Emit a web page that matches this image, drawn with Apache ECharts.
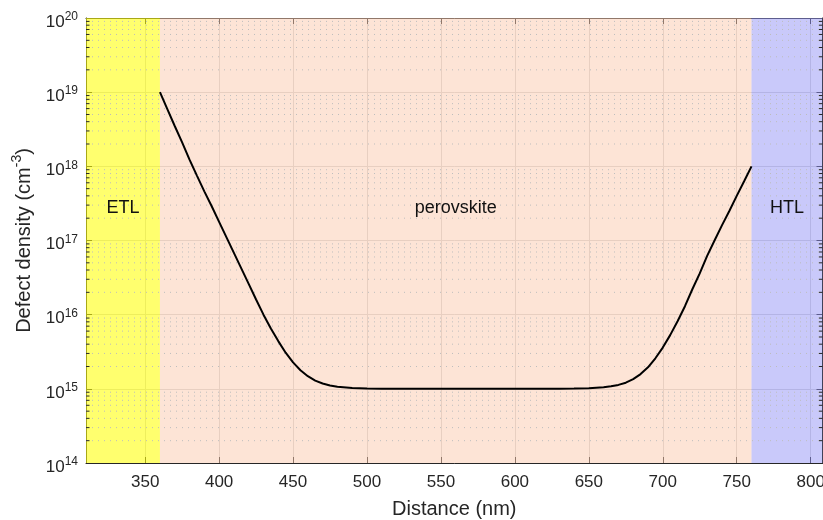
<!DOCTYPE html>
<html><head><meta charset="utf-8">
<script src="https://cdn.jsdelivr.net/npm/echarts@6/dist/echarts.min.js"></script>
<style>html,body{margin:0;padding:0;background:#fff}#c{width:823px;height:520px}</style>
</head><body><div id="c"></div>
<script>
const distance = [360,365,370,375,380,385,390,395,400,405,410,415,420,425,430,435,440,445,450,455,460,465,470,475,480,490,500,510,520,550,600,630,640,650,660,665,670,675,680,685,690,695,700,705,710,715,720,725,730,735,740,745,750,755,760];
const density = [1e19,5.9e18,3.5e18,2.1e18,1.23e18,7.5e17,4.6e17,2.9e17,1.78e17,1.1e17,6.8e16,4.2e16,2.6e16,1.6e16,1.0e16,6.5e15,4.4e15,3.07e15,2.27e15,1.78e15,1.48e15,1.29e15,1.18e15,1.11e15,1.07e15,1.025e15,1.01e15,1.004e15,1.0e15,1.0e15,1.0e15,1.0e15,1.007e15,1.02e15,1.05e15,1.08e15,1.13e15,1.21e15,1.35e15,1.58e15,1.95e15,2.58e15,3.6e15,5.3e15,8.15e15,1.3e16,2.2e16,3.6e16,6.2e16,1.0e17,1.6e17,2.5e17,4.0e17,6.3e17,1.0e18];
const xTicks = [350,400,450,500,550,600,650,700,750,800];
const xMin = 310, xMax = 808;
const yMin = 1e14, yMax = 1e20;
const layers = [
  {name:'ETL', from:310, to:360, color:'rgba(255,255,13,0.6)'},
  {name:'perovskite', from:360, to:760, color:'rgba(251,201,173,0.5)'},
  {name:'HTL', from:760, to:808, color:'rgba(147,147,245,0.5)'}
];
const minorVals = [];
for (let e = 14; e < 20; e++) for (let m = 2; m <= 9; m++) minorVals.push([xMin, m * Math.pow(10, e)]);

const FONT = 'Liberation Sans, Arial, sans-serif';
const chart = echarts.init(document.getElementById('c'));
const supLabel = v => {
  const e = Math.round(Math.log10(v));
  return '{b|10}{s|' + e + '}';
};
const yLabelRich = {
  b:{fontSize:17, fontFamily:FONT, color:'#262626', lineHeight:20, padding:[8,0,0,0]},
  s:{fontSize:12, fontFamily:FONT, color:'#262626', lineHeight:12, verticalAlign:'top', padding:[3,0,0,0]}
};
chart.setOption({
  animation:false,
  backgroundColor:'#fff',
  grid:{left:86, top:18, right:0.5, bottom:57, containLabel:false, outerBoundsMode:'none'},
  xAxis:[{
    type:'value', min:xMin, max:xMax, position:'bottom',
    name:'Distance (nm)', nameLocation:'middle', nameGap:36,
    nameTextStyle:{fontSize:20, fontFamily:FONT, color:'#262626'},
    axisLine:{show:true, lineStyle:{color:'#262626', width:1}},
    axisTick:{show:true, inside:true, length:6, customValues:xTicks, lineStyle:{color:'#262626'}},
    axisLabel:{fontSize:17, fontFamily:FONT, color:'#262626', margin:11, customValues:xTicks},
    splitLine:{show:true, lineStyle:{color:'#d4d4d4', width:1}}
  },{
    type:'value', min:xMin, max:xMax, position:'top',
    axisLine:{show:true, lineStyle:{color:'#262626', width:1}},
    axisTick:{show:true, inside:true, length:6, customValues:xTicks, lineStyle:{color:'#262626'}},
    axisLabel:{show:false}, splitLine:{show:false}
  }],
  yAxis:[{
    type:'log', logBase:10, min:yMin, max:yMax, interval:1, position:'left',
    name:'{a|Defect density (cm}{s|-3}{a|)}', nameLocation:'middle', nameGap:48, nameRotate:90,
    nameTextStyle:{rich:{
      a:{fontSize:20, fontFamily:FONT, color:'#262626', lineHeight:23, padding:[8,0,0,0]},
      s:{fontSize:14, fontFamily:FONT, color:'#262626', lineHeight:14, verticalAlign:'top', padding:[1,0,0,0]}
    }},
    axisLine:{show:true, lineStyle:{color:'#262626', width:1}},
    axisTick:{show:true, inside:true, length:6, lineStyle:{color:'#262626'}},
    axisLabel:{formatter:supLabel, margin:8, rich:yLabelRich},
    splitLine:{show:true, lineStyle:{color:'#d4d4d4', width:1}}
  },{
    type:'log', logBase:10, min:yMin, max:yMax, interval:1, position:'right',
    axisLine:{show:true, lineStyle:{color:'#262626', width:1}},
    axisTick:{show:true, inside:true, length:6, lineStyle:{color:'#262626'}},
    axisLabel:{show:false}, splitLine:{show:false}
  }],
  series:[{
    type:'custom', z:1, silent:true, xAxisIndex:0, yAxisIndex:0,
    data:minorVals,
    renderItem:function(params, api){
      const v = api.value(1);
      const p1 = api.coord([xMin, v]);
      const p2 = api.coord([xMax, v]);
      return {type:'group', children:[
        {type:'line', shape:{x1:p1[0], y1:p1[1], x2:p2[0], y2:p2[1]}, style:{stroke:'#bdbdbd', lineWidth:1, lineDash:[1,5]}},
        {type:'line', shape:{x1:p1[0], y1:p1[1], x2:p1[0]+3.5, y2:p1[1]}, style:{stroke:'#262626', lineWidth:1}},
        {type:'line', shape:{x1:p2[0]-3.5, y1:p2[1], x2:p2[0], y2:p2[1]}, style:{stroke:'#262626', lineWidth:1}}
      ]};
    }
  },{
    type:'line', z:2, data:[], silent:true,
    markArea:{silent:true,
      label:{show:true, position:'inside', offset:[0,-32], fontSize:18, fontFamily:FONT, color:'#111'},
      data: layers.map(l => [
        {name:l.name, xAxis:l.from, yAxis:yMin, itemStyle:{color:l.color}},
        {xAxis:l.to, yAxis:yMax}
      ])
    }
  },{
    type:'line', z:5, data:distance.map((d,i)=>[d, density[i]]),
    showSymbol:false, symbol:'none',
    lineStyle:{color:'#000', width:2}
  }]
});
</script></body></html>
